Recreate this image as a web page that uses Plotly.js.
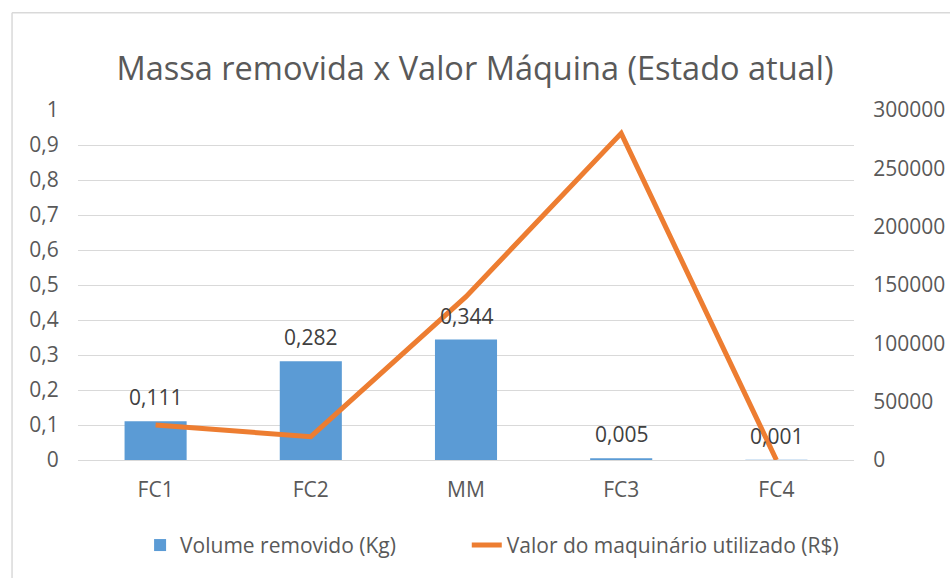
<!DOCTYPE html>
<html>
<head>
<meta charset="utf-8">
<script src="https://cdn.plot.ly/plotly-3.0.1.min.js"></script>
<style>html,body{margin:0;padding:0;background:#fff;}#chart{width:950px;height:578px;}</style>
</head>
<body>
<div id="chart"></div>
<script>
const categories = ['FC1', 'FC2', 'MM', 'FC3', 'FC4'];
const volumeRemovido = [0.111, 0.282, 0.344, 0.005, 0.001];
const valorMaquinario = [30000, 20000, 140000, 280000, 0];
const volumeLabels = ['0,111', '0,282', '0,344', '0,005', '0,001'];
const seriesNames = ['Volume removido (Kg)', 'Valor do maquinário utilizado (R$)'];

const FONT = 'Open Sans, sans-serif';
const GREY = '#595959';

const traces = [
  {
    type: 'bar', x: categories, y: volumeRemovido, name: seriesNames[0],
    marker: {color: '#5B9BD5'}, width: 0.4, yaxis: 'y', hoverinfo: 'none', legend: 'legend'
  },
  {
    type: 'scatter', mode: 'lines', x: categories, y: valorMaquinario, name: seriesNames[1],
    line: {color: '#ED7D31', width: 5}, yaxis: 'y2', hoverinfo: 'none', legend: 'legend2'
  }
];

const annotations = categories.map((c, i) => ({
  x: c, y: volumeRemovido[i], xref: 'x', yref: 'y', text: volumeLabels[i],
  showarrow: false, yanchor: 'bottom', yshift: 8,
  font: {family: FONT, size: 21, color: '#404040'}
}));

const legendBase = {orientation: 'h', xanchor: 'left', y: -0.244, yanchor: 'middle',
  font: {family: FONT, size: 21, color: GREY}, itemwidth: 30, bgcolor: 'rgba(0,0,0,0)'};

const layout = {
  width: 950, height: 578,
  margin: {l: 78, r: 96, t: 110, b: 116},
  paper_bgcolor: '#ffffff', plot_bgcolor: '#ffffff',
  separators: ', ',
  title: {text: 'Massa removida x Valor Máquina (Estado atual)', x: 0.5, xanchor: 'center', y: 0.882, yanchor: 'middle', yref: 'container',
    font: {family: FONT, size: 32.5, color: GREY}},
  showlegend: true,
  legend: Object.assign({}, legendBase, {x: 0.080}),
  legend2: Object.assign({}, legendBase, {x: 0.501}),
  xaxis: {type: 'category', showgrid: false, zeroline: false, showline: false,
    ticks: 'outside', ticklen: 11, tickcolor: 'rgba(0,0,0,0)',
    tickfont: {family: FONT, size: 21, color: GREY}},
  yaxis: {range: [0, 1], dtick: 0.1, tick0: 0, showgrid: true, gridcolor: '#D9D9D9', gridwidth: 1,
    zeroline: true, zerolinecolor: '#D9D9D9', zerolinewidth: 1,
    ticks: 'outside', ticklen: 14, tickcolor: 'rgba(0,0,0,0)',
    tickfont: {family: FONT, size: 21, color: GREY}},
  yaxis2: {range: [0, 300000], dtick: 50000, tick0: 0, overlaying: 'y', side: 'right',
    showgrid: false, zeroline: false, tickformat: 'd',
    ticks: 'outside', ticklen: 14, tickcolor: 'rgba(0,0,0,0)',
    tickfont: {family: FONT, size: 21, color: GREY}},
  bargap: 0.6,
  annotations: annotations,
  shapes: [
    {type: 'line', xref: 'paper', yref: 'paper', x0: -0.085, x1: 1.2, y0: 1.278, y1: 1.278, line: {color: '#D9D9D9', width: 1.5}},
    {type: 'line', xref: 'paper', yref: 'paper', x0: -0.085, x1: -0.085, y0: 1.278, y1: -0.4, line: {color: '#D9D9D9', width: 1.5}}
  ]
};

Plotly.newPlot('chart', traces, layout, {displayModeBar: false, staticPlot: true});
</script>
</body>
</html>
